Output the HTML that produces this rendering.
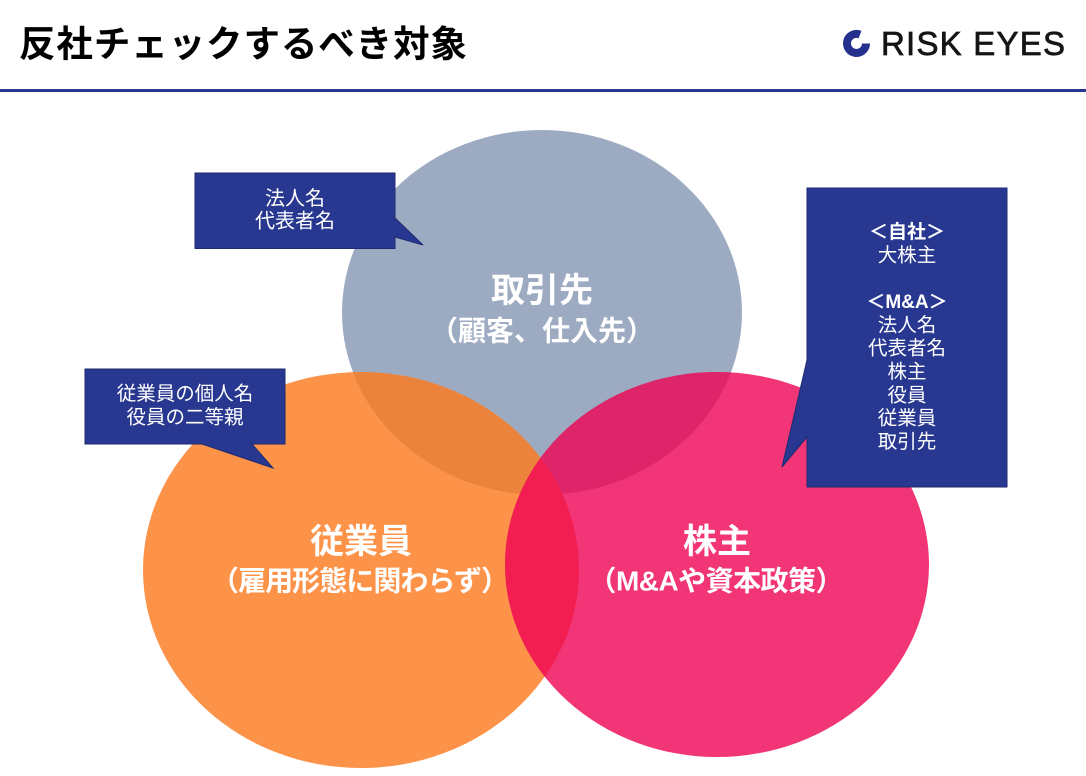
<!DOCTYPE html>
<html><head><meta charset="utf-8">
<style>
html,body{margin:0;padding:0;background:#fff;}
body{width:1086px;height:776px;overflow:hidden;}
svg{display:block;}
text{font-family:"Liberation Sans","Noto Sans CJK JP",sans-serif;}
</style></head>
<body>
<svg width="1086" height="776" viewBox="0 0 1086 776" xmlns="http://www.w3.org/2000/svg">
<defs>
  <clipPath id="cg"><ellipse cx="542" cy="312.5" rx="200" ry="182.5"/></clipPath>
  <clipPath id="co"><ellipse cx="361" cy="570" rx="218" ry="198"/></clipPath>
</defs>
<rect width="1086" height="776" fill="#fff"/>
<!-- header -->
<text x="19" y="56.5" font-size="36.5" font-weight="700" fill="#000" textLength="448" lengthAdjust="spacing">反社チェックするべき対象</text>
<g>
  <path d="M866 43.5 A9.5 9.5 0 1 1 860 34.6" fill="none" stroke="#23308C" stroke-width="8"/>
</g>
<text x="881" y="55" font-size="33" fill="#151515" stroke="#151515" stroke-width="0.7" textLength="184" lengthAdjust="spacing">RISK EYES</text>
<rect x="0" y="89" width="1086" height="3" fill="#283891"/>

<!-- circles -->
<ellipse cx="542" cy="312.5" rx="200" ry="182.5" fill="#9CABC1"/>
<ellipse cx="361" cy="570" rx="218" ry="198" fill="#FD9249"/>
<ellipse cx="717" cy="564.5" rx="212" ry="192.5" fill="#F23577"/>
<ellipse cx="361" cy="570" rx="218" ry="198" fill="#EC833C" clip-path="url(#cg)"/>
<ellipse cx="717" cy="564.5" rx="212" ry="192.5" fill="#DE2569" clip-path="url(#cg)"/>
<ellipse cx="717" cy="564.5" rx="212" ry="192.5" fill="#F21E51" clip-path="url(#co)"/>

<!-- circle labels -->
<g fill="#fff" font-weight="700" text-anchor="middle">
  <text x="542" y="302" font-size="34">取引先</text>
  <text x="542" y="340.5" font-size="28">（顧客、仕入先）</text>
  <text x="361" y="553" font-size="34">従業員</text>
  <text x="360" y="590.5" font-size="28" textLength="298" lengthAdjust="spacing">（雇用形態に関わらず）</text>
  <text x="717" y="553" font-size="34">株主</text>
  <text x="716" y="590.5" font-size="28" textLength="255" lengthAdjust="spacing">（M&amp;Aや資本政策）</text>
</g>

<!-- callouts -->
<g fill="#283891" stroke="#1E2A70" stroke-width="1">
  <polygon points="195,173 395,173 395,218 423,245 395,237 395,248.5 195,248.5"/>
  <polygon points="85,369 285,369 285,444 252,444 273,468 202,444 85,444"/>
  <polygon points="807,188 1007,188 1007,487 807,487 807,437 782,467 807,360"/>
</g>
<g fill="#fff" text-anchor="middle">
  <text x="295" y="205" font-size="20">法人名</text>
  <text x="295" y="227.5" font-size="20">代表者名</text>
  <text x="185" y="400" font-size="19.5">従業員の個人名</text>
  <text x="185" y="423.5" font-size="19.5">役員の二等親</text>
  <text x="907" y="238.2" font-size="19" font-weight="700">＜自社＞</text>
  <text x="907" y="261.5" font-size="19.5">大株主</text>
  <text x="907" y="308.1" font-size="19" font-weight="700">＜M&amp;A＞</text>
  <text x="907" y="331.4" font-size="19.5">法人名</text>
  <text x="907" y="354.7" font-size="19.5">代表者名</text>
  <text x="907" y="378" font-size="19.5">株主</text>
  <text x="907" y="401.3" font-size="19.5">役員</text>
  <text x="907" y="424.6" font-size="19.5">従業員</text>
  <text x="907" y="447.9" font-size="19.5">取引先</text>
</g>
</svg>
</body></html>
